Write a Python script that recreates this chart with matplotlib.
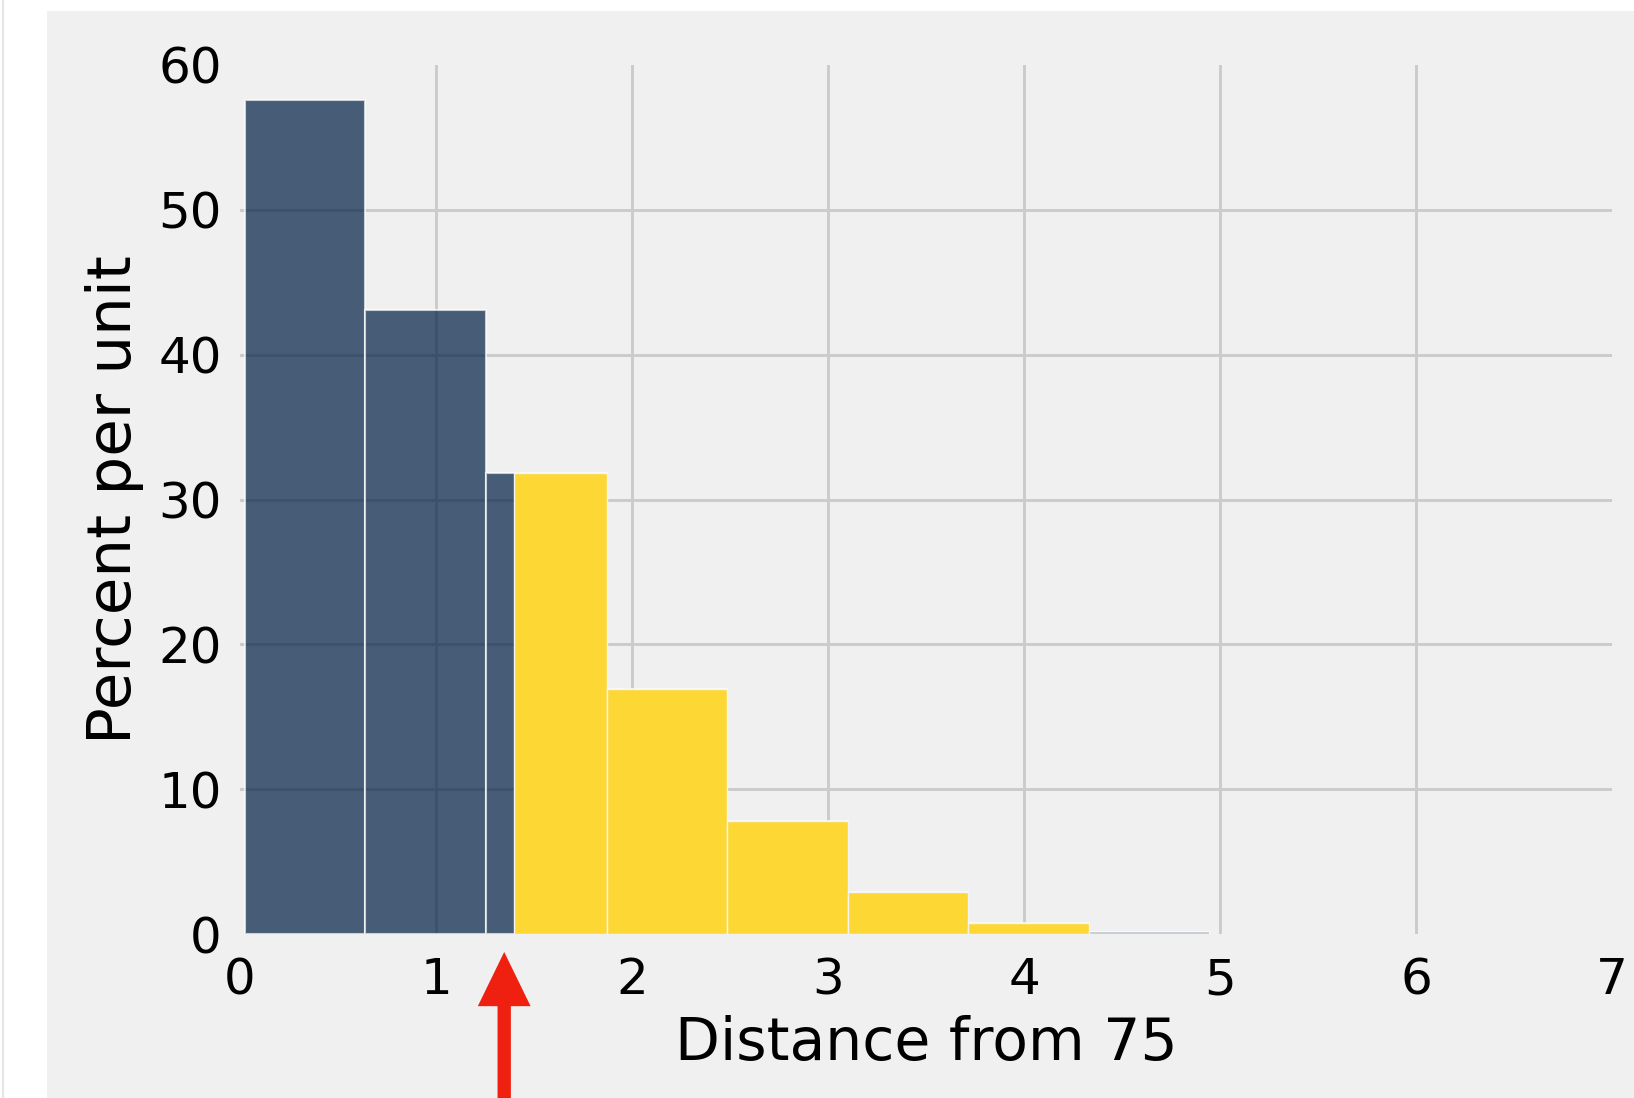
import matplotlib
matplotlib.use("Agg")
import matplotlib.pyplot as plt
from matplotlib.patches import Rectangle
from matplotlib.lines import Line2D

# ---- data ----
bin_edges = [0.0255, 0.640, 1.256, 1.871, 2.486, 3.101, 3.716, 4.331, 4.946]
dark_heights = [57.6, 43.1, 31.8, 16.9, 7.8, 2.9, 0.75, 0.15]
gold_start = 1.40          # observed statistic: shading starts here
gold_heights = [0.0, 0.0, 31.8, 16.9, 7.8, 2.9, 0.75, 0.0]
arrow_x = 1.348
x_ticks = [0, 1, 2, 3, 4, 5, 6, 7]
y_ticks = [0, 10, 20, 30, 40, 50, 60]
x_label = "Distance from 75"
y_label = "Percent per unit"

DPI = 100
W, H = 1634, 1098
fig = plt.figure(figsize=(W / DPI, H / DPI), dpi=DPI)
fig.patch.set_facecolor("white")
# grey panel (screenshot area)
fig.patches.append(Rectangle((47 / W, 0), 1 - 47 / W, 1 - 11 / H,
                             transform=fig.transFigure, facecolor="#f0f0f0",
                             edgecolor="none", zorder=-10))
fig.lines.append(Line2D([3 / W, 3 / W], [0, 1], transform=fig.transFigure,
                        color="#e6e6e6", lw=1.5, zorder=-9))

ax = fig.add_axes([240 / W, (H - 934) / H, (1612 - 240) / W, (934 - 65) / H])
ax.set_facecolor("#f0f0f0")
ax.set_axisbelow(True)
for s in ax.spines.values():
    s.set_visible(False)

lefts = bin_edges[:-1]
widths = [b - a for a, b in zip(bin_edges[:-1], bin_edges[1:])]
ax.bar(lefts, dark_heights, width=widths, align="edge",
       color=(0.0, 30 / 255, 66 / 255), alpha=0.7,
       edgecolor="white", linewidth=1.5, zorder=2)

g_lefts, g_widths, g_h = [], [], []
for a, b, h in zip(bin_edges[:-1], bin_edges[1:], gold_heights):
    if h > 0:
        l = max(a, gold_start)
        g_lefts.append(l)
        g_widths.append(b - l)
        g_h.append(h)
ax.bar(g_lefts, g_h, width=g_widths, align="edge",
       color="#fdd835", edgecolor="#f4f4f4", linewidth=1.0, zorder=3)

ax.set_xlim(0, 7)
ax.set_ylim(0, 60)
ax.set_xticks(x_ticks)
ax.set_yticks(y_ticks)
ax.grid(True, color="#cbcbcb", linewidth=2.1)
# reference shows no gridlines on the axes edges
for gl in (ax.xaxis.get_gridlines()[0], ax.xaxis.get_gridlines()[-1],
           ax.yaxis.get_gridlines()[0], ax.yaxis.get_gridlines()[-1]):
    gl.set_visible(False)
ax.tick_params(axis="both", length=0, labelsize=36, colors="black")
ax.tick_params(axis="x", pad=16)
ax.tick_params(axis="y", pad=13)
ax.set_xlabel(x_label, fontsize=42, labelpad=8)
ax.set_ylabel(y_label, fontsize=44, labelpad=10)

ax.annotate("", xy=(arrow_x, H - 952), xycoords=("data", "figure pixels"),
            xytext=(arrow_x, -20), textcoords=("data", "figure pixels"),
            arrowprops=dict(width=9.6, headwidth=38, headlength=39,
                            facecolor="#ef2010", edgecolor="none", shrink=0),
            annotation_clip=False)

fig.savefig("out.png", dpi=DPI, facecolor=fig.get_facecolor())
